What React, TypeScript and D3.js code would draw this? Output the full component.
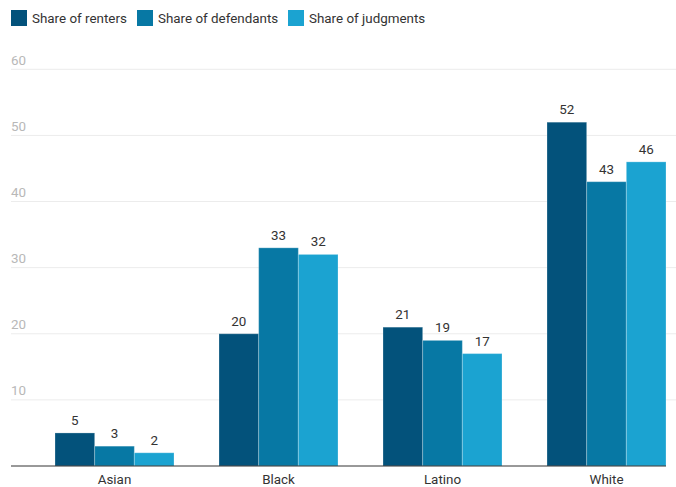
import { useEffect, useRef } from "react";
import * as d3 from "d3";

const categories = ["Asian", "Black", "Latino", "White"];
const seriesNames = ["Share of renters", "Share of defendants", "Share of judgments"];
const renters = [5, 20, 21, 52];
const defendants = [3, 33, 19, 43];
const judgments = [2, 32, 17, 46];
const yTicks = [10, 20, 30, 40, 50, 60];
const colors = ["#03527b", "#0778a4", "#1ba3d1"];

const App: React.FC = () => {
  const svgRef = useRef<SVGSVGElement>(null);

  useEffect(() => {
    document.body.style.margin = "0";
    const svg = d3.select(svgRef.current);
    svg.selectAll("*").remove();

    const width = 676;
    const height = 487;
    const left = 11;
    const fs = 13.4;
    const values = [renters, defendants, judgments];

    const y = d3.scaleLinear().domain([0, 60]).range([466, 69.3]);
    const x = d3.scaleBand<string>().domain(categories).range([55, 666]).paddingInner(45 / 164).paddingOuter(0);
    const xs = d3.scaleBand<string>().domain(seriesNames).range([0, x.bandwidth()]).padding(0);

    const font = "Roboto, 'Noto Sans', sans-serif";

    // gridlines + tick labels
    const grid = svg.append("g");
    yTicks.forEach((t) => {
      grid.append("line").attr("x1", left).attr("x2", width).attr("y1", y(t)).attr("y2", y(t))
        .attr("stroke", "#ececec").attr("stroke-width", 1);
      grid.append("text").attr("x", left).attr("y", y(t) - 4.5).text(t)
        .attr("font-family", font).attr("font-size", fs).attr("fill", "#b8b8b8");
    });

    // bars
    seriesNames.forEach((s, si) => {
      const g = svg.append("g");
      categories.forEach((c, ci) => {
        const v = values[si][ci];
        const bx = (x(c) as number) + (xs(s) as number);
        g.append("rect").attr("x", bx).attr("y", y(v)).attr("width", xs.bandwidth()).attr("height", y(0) - y(v))
          .attr("fill", colors[si]).attr("stroke", "rgba(255,255,255,0.25)").attr("stroke-width", 1);
        g.append("text").attr("x", bx + xs.bandwidth() / 2).attr("y", y(v) - 8).attr("text-anchor", "middle")
          .text(v).attr("font-family", font).attr("font-size", fs).attr("fill", "#333");
      });
    });

    // baseline
    svg.append("line").attr("x1", left).attr("x2", 666).attr("y1", y(0)).attr("y2", y(0))
      .attr("stroke", "#333").attr("stroke-width", 1);

    // category labels
    categories.forEach((c) => {
      svg.append("text").attr("x", (x(c) as number) + x.bandwidth() / 2).attr("y", 484).attr("text-anchor", "middle")
        .text(c).attr("font-family", font).attr("font-size", fs).attr("fill", "#333");
    });

    // legend
    const legendX = [11, 137, 288];
    seriesNames.forEach((s, i) => {
      svg.append("rect").attr("x", legendX[i]).attr("y", 10).attr("width", 16).attr("height", 16).attr("fill", colors[i]);
      svg.append("text").attr("x", legendX[i] + 21).attr("y", 22.5).text(s)
        .attr("font-family", font).attr("font-size", fs).attr("fill", "#333");
    });

    svg.attr("width", width).attr("height", height);
  }, []);

  return <svg ref={svgRef} width={676} height={487} style={{ display: "block" }}></svg>;
};

export default App;
